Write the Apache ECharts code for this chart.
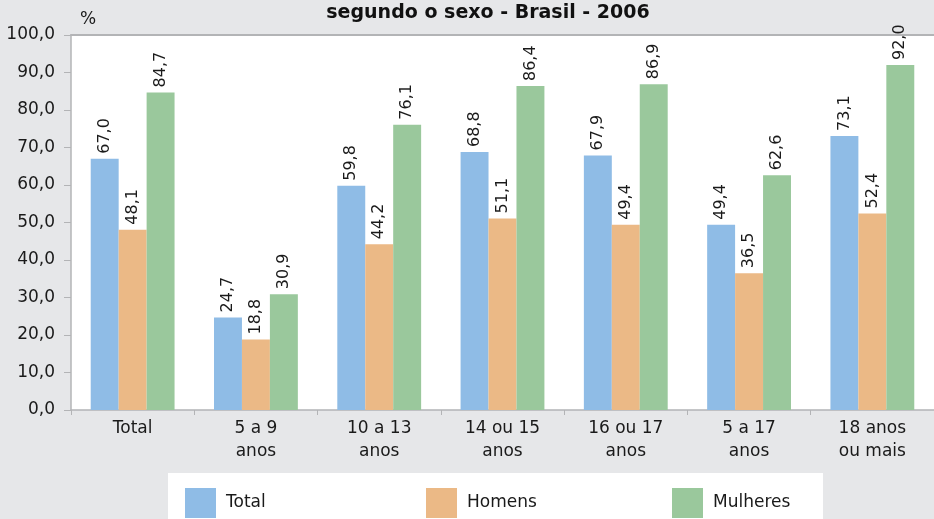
<!DOCTYPE html>
<html>
<head>
<meta charset="utf-8">
<style>
    html, body { margin: 0; padding: 0; background: #e6e7e9; }
    #chart { width: 934px; height: 519px; }
</style>
</head>
<body>
<div id="chart"></div>
<script src="https://cdn.jsdelivr.net/npm/echarts@6/dist/echarts.min.js"></script>
<script>
    var categories = ['Total', '5 a 9\nanos', '10 a 13\nanos', '14 ou 15\nanos', '16 ou 17\nanos', '5 a 17\nanos', '18 anos\nou mais'];
    var total = [67.0, 24.7, 59.8, 68.8, 67.9, 49.4, 73.1];
    var homens = [48.1, 18.8, 44.2, 51.1, 49.4, 36.5, 52.4];
    var mulheres = [84.7, 30.9, 76.1, 86.4, 86.9, 62.6, 92.0];
    var seriesNames = ['Total', 'Homens', 'Mulheres'];
    var colors = ['#8fbce6', '#ebb986', '#9ac89c'];

    var font = 'DejaVu Sans, sans-serif';
    var gray = '#b3b4b6';
    var ink = '#1a1a1a';

    function comma(v, d) {
        return v.toFixed(d).replace('.', ',');
    }

    var chart = echarts.init(document.getElementById('chart'));

    var barLabel = {
        show: true,
        position: 'top',
        rotate: 90,
        align: 'left',
        verticalAlign: 'middle',
        distance: 5,
        color: ink,
        fontSize: 16,
        fontFamily: font,
        formatter: function (p) { return comma(p.value, 1); }
    };

    var series = [total, homens, mulheres].map(function (d, i) {
        return {
            name: seriesNames[i],
            type: 'bar',
            data: d,
            barGap: 0,
            barCategoryGap: '32%',
            itemStyle: { color: colors[i] },
            label: barLabel
        };
    });

    // one legend per item so the items sit at fixed spots like the original
    var legendX = [180, 421, 667];
    var legends = seriesNames.map(function (n, i) {
        return {
            data: [n],
            left: legendX[i],
            top: 483,
            itemWidth: 31,
            itemHeight: 30,
            icon: 'rect',
            z: 10,
            textStyle: { fontFamily: font, fontSize: 17, color: ink, padding: [0, 0, 0, 5] }
        };
    });

    var option = {
        backgroundColor: '#e6e7e9',
        animation: false,
        title: {
            text: 'segundo o sexo - Brasil - 2006',
            left: 483,
            textAlign: 'center',
            top: -1,
            textStyle: { fontFamily: font, fontSize: 19, fontWeight: 'bold', color: '#111' }
        },
        graphic: [
            { type: 'text', left: 80, top: 11, style: { text: '%', fontSize: 17, fontFamily: font, fill: ink } },
            { type: 'rect', left: 168, top: 473, shape: { width: 655, height: 46 }, style: { fill: '#fff' }, z: 0 }
        ],
        legend: legends,
        grid: {
            left: 71, right: 0, top: 35, bottom: 109,
            show: true, backgroundColor: '#fff', borderWidth: 0
        },
        xAxis: [{
            type: 'category',
            data: categories,
            axisLine: { lineStyle: { color: gray, width: 1.5 } },
            axisTick: { show: true, length: 5, lineStyle: { color: gray } },
            axisLabel: { color: ink, fontSize: 17, fontFamily: font, lineHeight: 23, margin: 7 }
        }, {
            type: 'category',
            position: 'top',
            data: categories,
            axisLine: { show: true, lineStyle: { color: gray, width: 2 } },
            axisTick: { show: false },
            axisLabel: { show: false }
        }],
        yAxis: {
            type: 'value',
            min: 0,
            max: 100,
            interval: 10,
            splitLine: { show: false },
            axisLine: { show: true, lineStyle: { color: gray, width: 1.5 } },
            axisTick: { show: true, length: 7, lineStyle: { color: gray } },
            axisLabel: {
                color: ink, fontSize: 17, fontFamily: font, margin: 16,
                formatter: function (v) { return comma(v, 1); }
            }
        },
        series: series
    };

    chart.setOption(option);
</script>
</body>
</html>
